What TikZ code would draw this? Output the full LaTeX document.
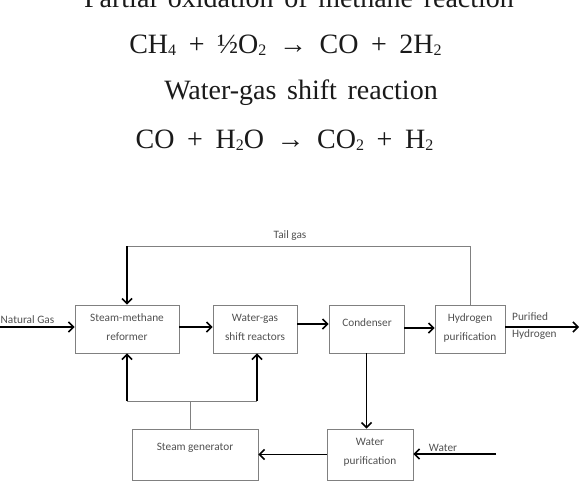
\documentclass[tikz,border=0pt]{standalone}
\usepackage{fontspec}
\setmainfont{Liberation Serif}
\newfontfamily\lblfont{Carlito}
\usetikzlibrary{arrows.meta}
\definecolor{boxgray}{HTML}{808080}
\definecolor{textgray}{HTML}{505050}
\definecolor{eqblack}{HTML}{1A1A1A}
\newcommand\eqspacing{\spaceskip=0.38em\relax}
\newcommand\eqwide{\spaceskip=0.45em\relax}
\newcommand\chemsub[1]{\raisebox{-2pt}{\fontsize{16}{16}\selectfont #1}}
\begin{document}
\begin{tikzpicture}[x=1pt,y=-1pt,
  box/.style={draw=boxgray, line width=0.9pt, minimum width=#1, minimum height=48pt, inner sep=0pt},
  txt/.style={font=\lblfont\fontsize{11.3}{19}\selectfont, text=textgray, align=center, inner sep=0pt},
  lbl/.style={font=\lblfont\fontsize{11.3}{17}\selectfont, text=textgray, align=left, inner sep=0pt},
  flow/.style={line width=1.5pt, draw=black, -{Straight Barb[length=5pt,width=10pt]}},
  thinline/.style={draw=boxgray, line width=0.9pt},
  eq/.style={font=\fontsize{28}{32}\selectfont, text=eqblack, anchor=base, inner sep=0pt}]
\useasboundingbox (0,0) rectangle (583,483);
\clip (0,0) rectangle (583,483);

% equations
\node[eq] (eq1) at (299,7) {\eqspacing Partial oxidation of methane reaction};
\node[eq] (eq2) at (285.5,53) {\eqwide CH\chemsub{4} + ½O\chemsub{2} → CO + 2H\chemsub{2}};
\node[eq] (eq3) at (301,99) {\eqspacing Water-gas shift reaction};
\node[eq] (eq4) at (284.5,148) {\eqwide CO + H\chemsub{2}O → CO\chemsub{2} + H\chemsub{2}};

% boxes
\node[box=104pt] (smr) at (127,329) {};
\node[box=84pt] (wgs) at (255,329) {};
\node[box=75pt] (cond) at (366.5,329) {};
\node[box=70pt] (h2) at (470,329) {};
\node[box=126pt, minimum height=51pt] (sg) at (195,454.5) {};
\node[box=86pt, minimum height=51pt] (wp) at (370,454.5) {};

% box texts
\node[txt] (smrt) at (127,327.5) {Steam-methane\\reformer};
\node[txt] (wgst) at (255,327.5) {Water-gas\\shift reactors};
\node[txt] (condt) at (367,323) {Condenser};
\node[txt] (h2t) at (470,327.5) {Hydrogen\\purification};
\node[txt] (sgt) at (195,448) {Steam generator};
\node[txt] (wpt) at (370,452.5) {Water\\purification};

% free ends
\coordinate (ng) at (0,327);
\coordinate (out) at (579,327);
\coordinate (tgr) at (470,246);
\coordinate (tgl) at (127,246);
\coordinate (win) at (496,454);
\coordinate (sgtop) at (190,401);
\coordinate (sgl) at (127,401);
\coordinate (sgr) at (257,401);

% labels
\node[lbl, anchor=west] (nglbl) at (0.5,320) {Natural Gas};
\node[lbl] (tglbl) at (290,236) {Tail gas};
\node[lbl, anchor=west] (outlbl) at (512,326.5) {Purified\\Hydrogen};
\node[lbl] (wlbl) at (443,448) {Water};

% connectors
\draw[flow] (ng) -- (ng -| smr.west);
\draw[flow] ([yshift=2pt]smr.east) -- ([yshift=2pt]wgs.west);
\draw[flow] ([yshift=5pt]wgs.east) -- ([yshift=5pt]cond.west);
\draw[flow] ([yshift=1pt]cond.east) -- ([yshift=1pt]h2.west);
\draw[flow] ([yshift=2pt]h2.east) -- (out);
\draw[thinline] (h2.north) -- (tgr) -- (tgl);
\draw[flow] (tgl) -- (smr.north);
\draw[flow] (cond.south) -- (cond.south |- wp.north);
\draw[flow] (wp.west) -- (sg.east);
\draw[flow] (win) -- (win -| wp.east);
\draw[thinline] (sgtop |- sg.north) -- (sgtop);
\draw[thinline] (sgl) -- (sgr);
\draw[flow] (sgl) -- (sgl |- smr.south);
\draw[flow] (sgr) -- (sgr |- wgs.south);
\end{tikzpicture}
\end{document}
